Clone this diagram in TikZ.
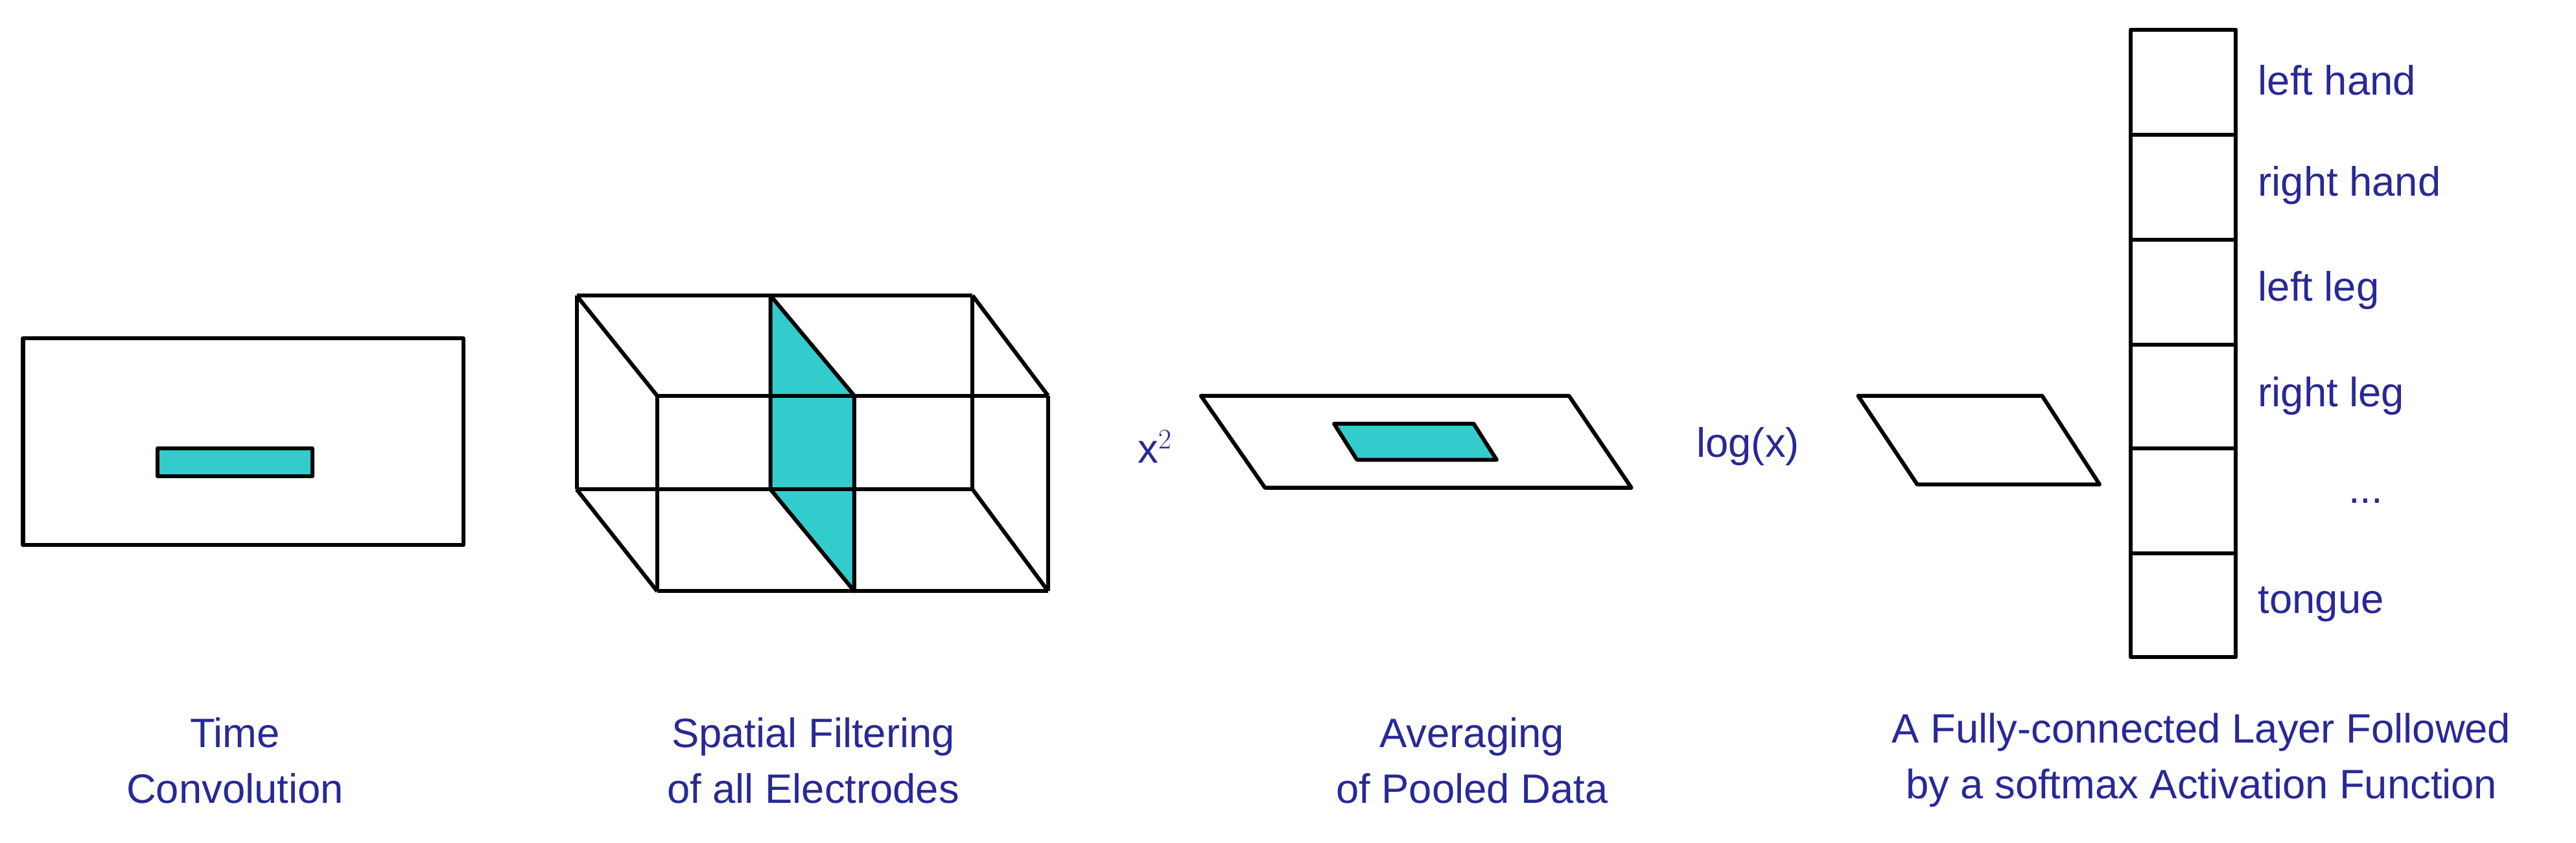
\documentclass[tikz,border=0pt]{standalone}
\usepackage{fontspec}
\setmainfont{Liberation Sans}
\definecolor{txt}{RGB}{40,40,150}
\definecolor{teal1}{RGB}{51,204,204}
\begin{document}
\begin{tikzpicture}[x=1pt,y=-1pt,line width=2.4pt,line join=round,
  lbl/.style={text=txt,font=\fontsize{25}{34}\selectfont,align=center},
  cls/.style={text=txt,font=\fontsize{25}{30}\selectfont,anchor=west},
  fillc/.style={fill=teal1,draw=black}]
\useasboundingbox (0,0) rectangle (1568,513);
% time convolution
\draw (14,206) rectangle (282,332);
\draw[fillc] (96,273) rectangle (190,290);
% spatial filtering box
\draw[fillc] (469,180) -- (520,241) -- (520,360) -- (469,298) -- cycle;
\draw (351,180) -- (592,180) (351,298) -- (592,298) (400,241) -- (638,241) (400,360) -- (638,360);
\draw (351,180) -- (351,298) (592,180) -- (592,298) (400,241) -- (400,360) (638,241) -- (638,360);
\draw (351,180) -- (400,241) (592,180) -- (638,241) (351,298) -- (400,360) (592,298) -- (638,360);
\node[lbl] (sq) at (703,272) {x$^2$};
% averaging
\draw (731,241) -- (955,241) -- (993,297) -- (770,297) -- cycle;
\draw[fillc] (812,258) -- (897,258) -- (911,280) -- (826,280) -- cycle;
\node[lbl] (lg) at (1064,272) {log(x)};
\draw (1131,241) -- (1243,241) -- (1278,295) -- (1167,295) -- cycle;
% column
\draw (1297,18) rectangle (1361,400);
\foreach \y in {82,146,210,273,337} \draw (1297,\y) -- (1361,\y);
\node[cls] (c1) at (1370,49) {left hand};
\node[cls] (c2) at (1370,113) {right hand};
\node[cls] (c3) at (1370,177) {left leg};
\node[cls] (c4) at (1370,241) {right leg};
\node[lbl] (c5) at (1440,305) {...};
\node[cls] (c6) at (1370,368) {tongue};
% captions
\node[lbl] (t1) at (143,463) {Time\\Convolution};
\node[lbl] (t2) at (495,463) {Spatial Filtering\\of all Electrodes};
\node[lbl] (t3) at (896,463) {Averaging\\of Pooled Data};
\node[lbl] (t4) at (1340,463) {A Fully-connected Layer Followed\\by a softmax Activation Function};
\end{tikzpicture}
\end{document}
